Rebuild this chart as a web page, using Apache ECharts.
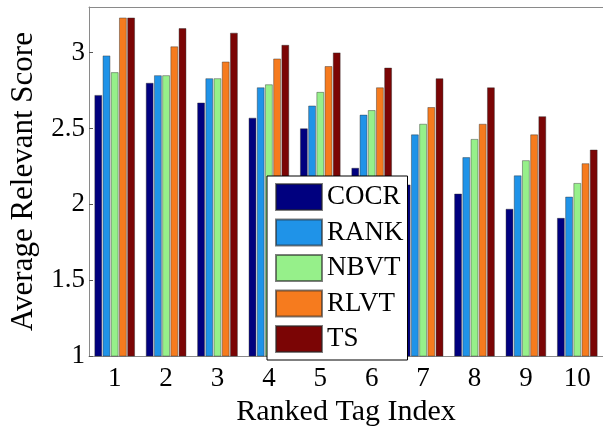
<!DOCTYPE html>
<html>
<head>
<meta charset="utf-8">
<script src="https://cdn.jsdelivr.net/npm/echarts@6/dist/echarts.min.js"></script>
<style>
  html, body { margin: 0; padding: 0; background: #fff; }
  #main { width: 603px; height: 432px; }
</style>
</head>
<body>
<div id="main"></div>
<script>
// ranked tag index 1..10
var categories = ["1", "2", "3", "4", "5", "6", "7", "8", "9", "10"];
var seriesNames = ["COCR", "RANK", "NBVT", "RLVT", "TS"];
var cocr = [2.72, 2.80, 2.67, 2.57, 2.50, 2.24, 2.13, 2.07, 1.97, 1.91];
var rank = [2.98, 2.85, 2.83, 2.77, 2.65, 2.59, 2.46, 2.31, 2.19, 2.05];
var nbvt = [2.87, 2.85, 2.83, 2.79, 2.74, 2.62, 2.53, 2.43, 2.29, 2.14];
var rlvt = [3.23, 3.04, 2.94, 2.96, 2.91, 2.77, 2.64, 2.53, 2.46, 2.27];
var ts   = [3.23, 3.16, 3.13, 3.05, 3.00, 2.90, 2.83, 2.77, 2.58, 2.36];
var colors = ["#00007f", "#1f93e8", "#96f08a", "#f67b1e", "#7b0505"];

var font = "'Liberation Serif', serif";
var frameColor = "#8a8a8a";

var myChart = echarts.init(document.getElementById("main"));

function makeSeries(name, data, idx) {
  return {
    name: name,
    type: "bar",
    data: data,
    barWidth: 7.6,
    barGap: "8%",
    itemStyle: {
      color: colors[idx],
      borderColor: "rgba(40,40,40,0.6)",
      borderWidth: 0.7
    }
  };
}

var option = {
  animation: false,
  backgroundColor: "#fff",
  textStyle: { fontFamily: font, color: "#000" },
  grid: { left: 83, width: 525, top: 7, bottom: 69, containLabel: false },
  legend: {
    orient: "vertical",
    left: 267,
    top: 176,
    icon: "rect",
    itemWidth: 46,
    itemHeight: 26,
    itemGap: 7.5,
    padding: [7, 4, 7, 8],
    backgroundColor: "#fff",
    borderColor: "#000",
    borderWidth: 1,
    textStyle: { fontFamily: font, fontSize: 27, lineHeight: 26, color: "#000" },
    data: seriesNames
  },
  xAxis: [
    {
      type: "category",
      data: categories,
      position: "bottom",
      axisLine: { lineStyle: { color: frameColor, width: 1 } },
      axisTick: { show: false },
      axisLabel: { fontFamily: font, fontSize: 27, color: "#000", margin: 9 },
      name: "Ranked Tag Index",
      nameLocation: "middle",
      nameGap: 33,
      nameTextStyle: { fontFamily: font, fontSize: 30, color: "#000" }
    },
    {
      type: "category",
      data: categories,
      position: "top",
      axisLine: { lineStyle: { color: frameColor, width: 1 } },
      axisTick: { inside: true, length: 4, alignWithLabel: true, lineStyle: { color: "#555" } },
      axisLabel: { show: false }
    }
  ],
  yAxis: {
    type: "value",
    min: 1,
    max: 3.3,
    interval: 0.5,
    axisLine: { show: true, lineStyle: { color: frameColor, width: 1 } },
    axisTick: { show: true, inside: true, length: 4, lineStyle: { color: "#555" } },
    splitLine: { show: false },
    axisLabel: {
      fontFamily: font, fontSize: 27, color: "#000", margin: 4,
      showMaxLabel: false
    },
    name: "Average Relevant Score",
    nameLocation: "middle",
    nameGap: 50,
    nameTextStyle: { fontFamily: font, fontSize: 31, color: "#000" }
  },
  series: [
    makeSeries(seriesNames[0], cocr, 0),
    makeSeries(seriesNames[1], rank, 1),
    makeSeries(seriesNames[2], nbvt, 2),
    makeSeries(seriesNames[3], rlvt, 3),
    makeSeries(seriesNames[4], ts, 4)
  ]
};

myChart.setOption(option);
</script>
</body>
</html>
